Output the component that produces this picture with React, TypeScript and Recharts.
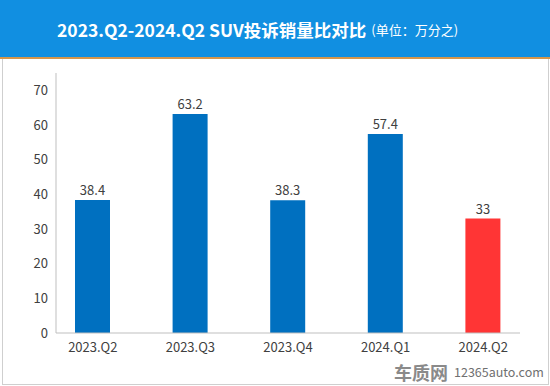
import React from "react";
import { BarChart, Bar, XAxis, YAxis, Cell, LabelList } from "recharts";

const categories = ["2023.Q2", "2023.Q3", "2023.Q4", "2024.Q1", "2024.Q2"];
const values = [38.4, 63.2, 38.3, 57.4, 33];
const barColors = ["#0070c0", "#0070c0", "#0070c0", "#0070c0", "#ff3535"];
const yTicks = [0, 10, 20, 30, 40, 50, 60, 70];
const titleMain = "2023.Q2-2024.Q2 SUV投诉销量比对比";
const titleUnit = "(单位：万分之)";

const data = categories.map((c, i) => ({ name: c, value: values[i] }));

const FONT = '"Noto Sans CJK SC", "Noto Sans", sans-serif';

export default function App() {
  return (
    <div
      style={{
        position: "absolute",
        left: 0,
        top: 0,
        width: 550,
        height: 386,
        background: "#ffffff",
        fontFamily: FONT,
        overflow: "hidden",
      }}
    >
      <div
        style={{
          position: "absolute",
          left: 0,
          top: 0,
          width: 550,
          height: 57,
          background: "#118fe1",
          borderBottom: "2px solid #d6964a",
        }}
      />
      <div
        style={{
          position: "absolute",
          left: 57,
          top: 0,
          height: 57,
          display: "flex",
          alignItems: "center",
          color: "#ffffff",
          whiteSpace: "nowrap",
        }}
      >
        <span style={{ fontSize: 17.5, fontWeight: 700, marginTop: 1 }}>{titleMain}</span>
        <span style={{ fontSize: 13, marginLeft: 5, marginTop: 2 }}>{titleUnit}</span>
      </div>
      <div
        style={{
          position: "absolute",
          left: 2,
          top: 59,
          width: 545,
          height: 325,
          borderLeft: "1px solid #cfcfcf",
          borderRight: "1px solid #cfcfcf",
          borderBottom: "1px solid #cfcfcf",
        }}
      />
      <div style={{ position: "absolute", left: 0, top: 0 }}>
        <BarChart
          width={550}
          height={386}
          data={data}
          margin={{ top: 73, right: 30, bottom: 23, left: 16 }}
        >
          <XAxis
            dataKey="name"
            height={30}
            padding={{ left: -12, right: -12 }}
            axisLine={{ stroke: "#bfbfbf" }}
            tickLine={false}
            tickMargin={4}
            interval={0}
            tick={{ fill: "#404040", fontSize: 13, fontFamily: FONT }}
          />
          <YAxis
            width={40}
            domain={[0, 75]}
            ticks={yTicks}
            interval={0}
            axisLine={{ stroke: "#bfbfbf" }}
            tickLine={false}
            tick={{ fill: "#404040", fontSize: 13, fontFamily: FONT }}
          />
          <Bar dataKey="value" barSize={35} isAnimationActive={false}>
            {data.map((d, i) => (
              <Cell key={d.name} fill={barColors[i]} />
            ))}
            <LabelList
              dataKey="value"
              position="top"
              offset={5}
              fill="#404040"
              fontSize={13}
              fontFamily={FONT}
            />
          </Bar>
        </BarChart>
      </div>
      <div
        style={{
          position: "absolute",
          left: 394,
          top: 362,
          display: "flex",
          alignItems: "center",
          whiteSpace: "nowrap",
          color: "#8a8a8a",
          lineHeight: "20px",
        }}
      >
        <span style={{ fontSize: 18, fontWeight: 700 }}>车质网</span>
        <span style={{ fontSize: 12.5, marginLeft: 6, color: "#707070" }}>12365auto.com</span>
      </div>
    </div>
  );
}
